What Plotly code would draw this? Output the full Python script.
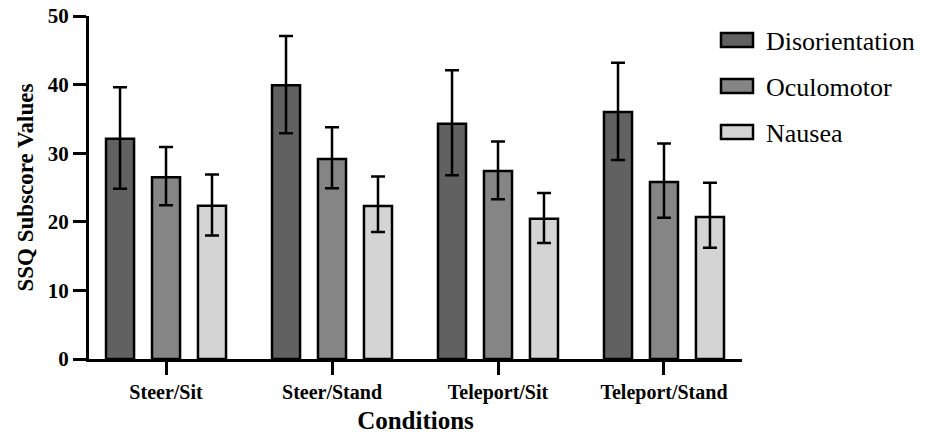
import plotly.graph_objects as go

conditions = ["Steer/Sit", "Steer/Stand", "Teleport/Sit", "Teleport/Stand"]
series_names = ["Disorientation", "Oculomotor", "Nausea"]
disorientation = [32.1, 39.9, 34.3, 36.0]
disorientation_hi = [39.6, 47.1, 42.1, 43.2]
disorientation_lo = [24.8, 32.9, 26.8, 29.0]
oculomotor = [26.5, 29.15, 27.4, 25.8]
oculomotor_hi = [30.9, 33.8, 31.7, 31.4]
oculomotor_lo = [22.4, 24.9, 23.3, 20.6]
nausea = [22.35, 22.3, 20.45, 20.7]
nausea_hi = [26.9, 26.6, 24.2, 25.7]
nausea_lo = [18.0, 18.5, 16.9, 16.2]

colors = ["#616161", "#858585", "#d4d4d4"]
FONT = "Times New Roman, Liberation Serif, serif"

fig = go.Figure()
data = [
    (disorientation, disorientation_hi, disorientation_lo),
    (oculomotor, oculomotor_hi, oculomotor_lo),
    (nausea, nausea_hi, nausea_lo),
]
for name, (vals, hi, lo), col in zip(series_names, data, colors):
    fig.add_trace(go.Bar(
        x=conditions, y=vals, name=name,
        marker=dict(color=col, line=dict(color="black", width=2.5)),
        error_y=dict(type="data", symmetric=False,
                     array=[h - v for h, v in zip(hi, vals)],
                     arrayminus=[v - l for v, l in zip(vals, lo)],
                     color="black", thickness=2.5, width=7),
        showlegend=False,
    ))

# manual legend
shapes = []
annotations = []
W, H = 933, 435
ml, mr, mt, mb = 89, 191, 16, 76
pw, ph = W - ml - mr, H - mt - mb
def px2paper_x(px):
    return (px - ml) / pw
def px2paper_y(py):
    return 1 - (py - mt) / ph
for i, (name, col) in enumerate(zip(series_names, colors)):
    cy = 40 + i * 46
    shapes.append(dict(type="rect", xref="paper", yref="paper",
                       x0=px2paper_x(721), x1=px2paper_x(753),
                       y0=px2paper_y(cy + 7), y1=px2paper_y(cy - 7),
                       fillcolor=col, line=dict(color="black", width=2.5)))
    annotations.append(dict(text=name, xref="paper", yref="paper",
                            x=px2paper_x(764), y=px2paper_y(cy + 1),
                            xanchor="left", yanchor="middle", showarrow=False,
                            font=dict(family=FONT, size=26, color="black")))

fig.update_layout(
    width=W, height=H,
    margin=dict(l=ml, r=mr, t=mt, b=mb),
    paper_bgcolor="white", plot_bgcolor="white",
    barmode="group", bargap=0.169, bargroupgap=0.39,
    shapes=shapes, annotations=annotations,
    font=dict(family=FONT, color="black"),
)
fig.update_xaxes(
    range=[-0.464, 3.47], showline=True, linecolor="black", linewidth=3,
    ticks="outside", ticklen=13, tickwidth=3, tickcolor="black",
    tickfont=dict(family=FONT, size=20, color="black", weight="bold"),
    title=dict(text="<b>Conditions</b>", font=dict(family=FONT, size=25), standoff=9),
    showgrid=False, zeroline=False, automargin=False,
)
fig.update_yaxes(
    range=[0, 50], dtick=10, showline=True, linecolor="black", linewidth=3,
    ticks="outside", ticklen=13, tickwidth=3, tickcolor="black",
    tickfont=dict(family=FONT, size=21, color="black", weight="bold"),
    title=dict(text="<b>SSQ Subscore Values</b>", font=dict(family=FONT, size=23), standoff=8),
    showgrid=False, zeroline=False, automargin=False,
)
fig.write_html("out.html")
